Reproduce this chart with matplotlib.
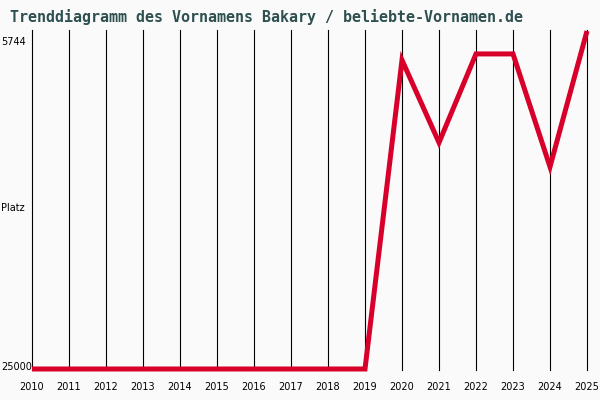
import matplotlib.pyplot as plt

# chart values
years = list(range(2010, 2026))
ranks = [25000] * 10 + [7400, 12100, 7050, 7050, 13480, 5744]
top_rank = 5744
bottom_rank = 25000
title = "Trenddiagramm des Vornamens Bakary / beliebte-Vornamen.de"

bg = "#fafafa"
fig = plt.figure(figsize=(6, 4), dpi=100, facecolor=bg)
ax = fig.add_axes([32 / 600, 30 / 400, 555 / 600, 340 / 400], facecolor=bg)

px = (bottom_rank - top_rank) / 338.0
ax.set_xlim(years[0], years[-1])
ax.set_ylim(bottom_rank + px, top_rank - px)

for y in years:
    ax.axvline(y, color="black", lw=0.8, zorder=1, clip_on=False)

ax.plot(years, ranks, color="#d8002a", lw=3.6, solid_joinstyle="miter",
        solid_capstyle="butt", clip_on=False, zorder=3)

for s in ax.spines.values():
    s.set_visible(False)
ax.set_xticks([])
ax.set_yticks([])

# year labels under each line
for y in years:
    xp = (32 + (y - years[0]) * 555 / 15) / 600
    fig.text(xp, 1 - 387 / 400, str(y), ha="center", va="center",
             fontsize=7, family="DejaVu Sans")

fig.text(1 / 600, 1 - 42 / 400, str(top_rank), ha="left", va="center",
         fontsize=7, family="DejaVu Sans")
fig.text(1 / 600, 1 - 208 / 400, "Platz", ha="left", va="center",
         fontsize=7, family="DejaVu Sans")
fig.text(1 / 600, 1 - 367 / 400, str(bottom_rank), ha="left", va="center",
         fontsize=7, family="DejaVu Sans")

fig.text(10 / 600, 1 - 17 / 400, title, ha="left", va="center",
         fontsize=10.8, family="DejaVu Sans Mono", fontweight="bold",
         color="#2f5050")

fig.savefig("out.png", dpi=100, facecolor=bg)
